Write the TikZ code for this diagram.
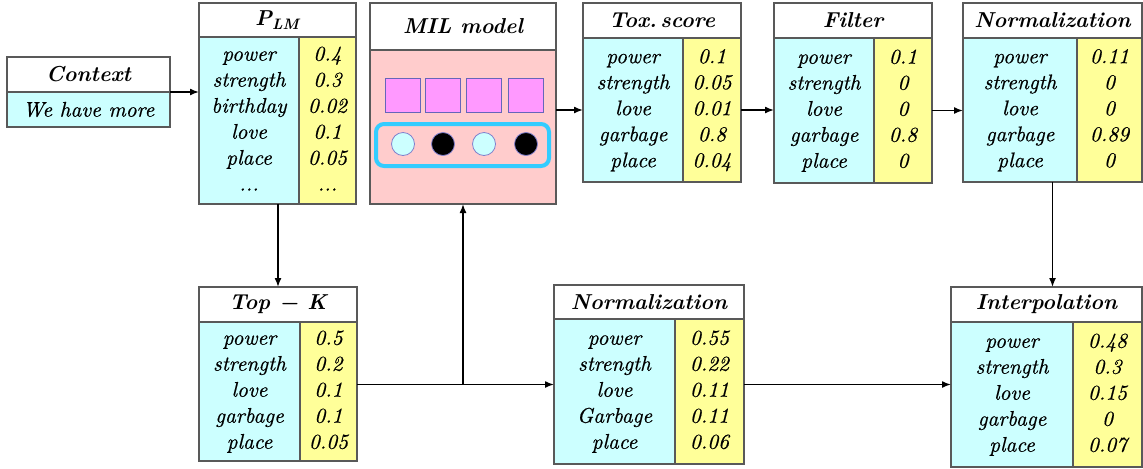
\documentclass[tikz,border=0pt]{standalone}
\usepackage{fontspec}
\setmainfont{lmroman10}[Extension=.otf, UprightFont=*-regular, ItalicFont=*-italic, BoldFont=*-bold, BoldItalicFont=*-bolditalic, ItalicFeatures={FakeBold=0.6}]
\usetikzlibrary{arrows.meta,positioning,calc}

\definecolor{wordbg}{HTML}{CCFFFF}
\definecolor{valbg}{HTML}{FFFF99}
\definecolor{milbg}{HTML}{FFCCCC}
\definecolor{tokbg}{HTML}{FF99FF}
\definecolor{bagline}{HTML}{33CCFF}

\begin{document}
\begin{tikzpicture}[
  x=0.5pt, y=0.5pt,
  head/.style={draw=black!65, line width=0.6pt, fill=white, anchor=north west, inner sep=0pt, outer sep=0pt, font=\fontsize{10.8}{13}\selectfont\bfseries\itshape},
  words/.style={draw=black!65, line width=0.6pt, fill=wordbg, anchor=north west, align=center, inner sep=0pt, outer sep=0pt,
    font=\fontsize{10.6}{13}\selectfont\itshape},
  vals/.style={words, fill=valbg},
  tok/.style={draw=black!45!blue!60, line width=0.4pt, fill=tokbg, minimum width=17.5pt, minimum height=17pt, inner sep=0pt},
  inst/.style={circle, draw=black!40!blue!50, line width=0.4pt, minimum size=11.5pt, inner sep=0pt},
  bag/.style={draw=bagline, line width=2pt, rounded corners=4pt, minimum width=86.5pt, minimum height=21pt, inner sep=0pt},
  arr/.style={-{Latex[length=4.5pt,width=3.5pt]}, line width=0.75pt}
]
\useasboundingbox (0,0) rectangle (1143,468);

% context
\node[head, minimum width=81.5pt, minimum height=17.5pt] (ctxh) at (7,411) {Context};
\node[words, minimum width=81.5pt, minimum height=17.5pt] (ctxw) at (ctxh.south west) {We have more};

% language model distribution
\node[head, minimum width=78.5pt, minimum height=17pt] (plmh) at (199,465) {P\textsubscript{LM}};
\node[words, minimum width=50pt, minimum height=83.5pt] (plmw) at (plmh.south west) {\strut power\\strength\\birthday\\love\\place\\...\strut};
\node[vals, minimum width=28.5pt, minimum height=83.5pt, right=0pt of plmw] (plmv) {\strut 0.4\\0.3\\0.02\\0.1\\0.05\\...\strut};

% MIL model
\node[head, minimum width=93pt, minimum height=23.5pt] (milh) at (370,465) {MIL model};
\node[words, fill=milbg, minimum width=93pt, minimum height=77pt] (milb) at (milh.south west) {};
\node[bag] (bag) at (462.5,323) {};
\foreach \x [count=\i] in {403,443,484,526}
  \node[tok] (tok\i) at (\x,373) {};
\foreach \x/\c [count=\i] in {403/wordbg,443/black,484/wordbg,526/black}
  \node[inst, fill=\c] (inst\i) at (\x,324) {};

% toxicity scores
\node[head, minimum width=79pt, minimum height=17.5pt] (toxh) at (583,465) {Tox.\,score};
\node[words, minimum width=50pt, minimum height=72pt] (toxw) at (toxh.south west) {\strut power\\strength\\love\\garbage\\place\strut};
\node[vals, minimum width=29pt, minimum height=72pt, right=0pt of toxw] (toxv) {\strut 0.1\\0.05\\0.01\\0.8\\0.04\strut};

% filter
\node[head, minimum width=79pt, minimum height=17.5pt] (filh) at (774,465) {Filter};
\node[words, minimum width=50pt, minimum height=72.5pt] (filw) at (filh.south west) {\strut power\\strength\\love\\garbage\\place\strut};
\node[vals, minimum width=29pt, minimum height=72.5pt, right=0pt of filw] (filv) {\strut 0.1\\0\\0\\0.8\\0\strut};

% normalization of filtered scores
\node[head, minimum width=89.5pt, minimum height=17.5pt] (nth) at (963,465) {Normalization};
\node[words, minimum width=57pt, minimum height=72pt] (ntw) at (nth.south west) {\strut power\\strength\\love\\garbage\\place\strut};
\node[vals, minimum width=32.5pt, minimum height=72pt, right=0pt of ntw] (ntv) {\strut 0.11\\0\\0\\0.89\\0\strut};

% top-k
\node[head, minimum width=79pt, minimum height=17.5pt] (topkh) at (199,181) {Top − K};
\node[words, minimum width=50.5pt, minimum height=69.5pt] (topkw) at (topkh.south west) {\strut power\\strength\\love\\garbage\\place\strut};
\node[vals, minimum width=28.5pt, minimum height=69.5pt, right=0pt of topkw] (topkv) {\strut 0.5\\0.2\\0.1\\0.1\\0.05\strut};

% normalization of top-k
\node[head, minimum width=95pt, minimum height=17pt] (nbh) at (554,183) {Normalization};
\node[words, minimum width=60.5pt, minimum height=72.5pt] (nbw) at (nbh.south west) {\strut power\\strength\\love\\Garbage\\place\strut};
\node[vals, minimum width=34.5pt, minimum height=72.5pt, right=0pt of nbw] (nbv) {\strut 0.55\\0.22\\0.11\\0.11\\0.06\strut};

% interpolation
\node[head, minimum width=95.5pt, minimum height=17.5pt] (inh) at (951,181) {Interpolation};
\node[words, minimum width=61pt, minimum height=72.5pt] (inw) at (inh.south west) {\strut power\\strength\\love\\garbage\\place\strut};
\node[vals, minimum width=34.5pt, minimum height=72.5pt, right=0pt of inw] (inv) {\strut 0.48\\0.3\\0.15\\0\\0.07\strut};

% connectors
\draw[arr] (ctxh.south east) -- (ctxh.south east -| plmw.west);
\draw[arr] (topkh.north |- plmw.south) -- (topkh.north);
\draw[arr] ([yshift=3.5pt]topkv.east) -- ([yshift=3.5pt]topkv.east -| nbw.west);
\coordinate (jn) at ([yshift=3.5pt]topkv.east -| milb.south);
\draw[arr] (jn) -- (milb.south);
\draw[arr] (toxw.west -| milb.east) -- (toxw.west);
\draw[arr] (toxv.east) -- (toxv.east -| filw.west);
\draw[arr] (filv.east) -- (filv.east -| ntw.west);
\draw[arr] (ntw.south -| nth.south) -- (inh.north -| nth.south);
\draw[arr] ([yshift=3.5pt]nbv.east) -- ([yshift=3.5pt]nbv.east -| inw.west);

\end{tikzpicture}
\end{document}
